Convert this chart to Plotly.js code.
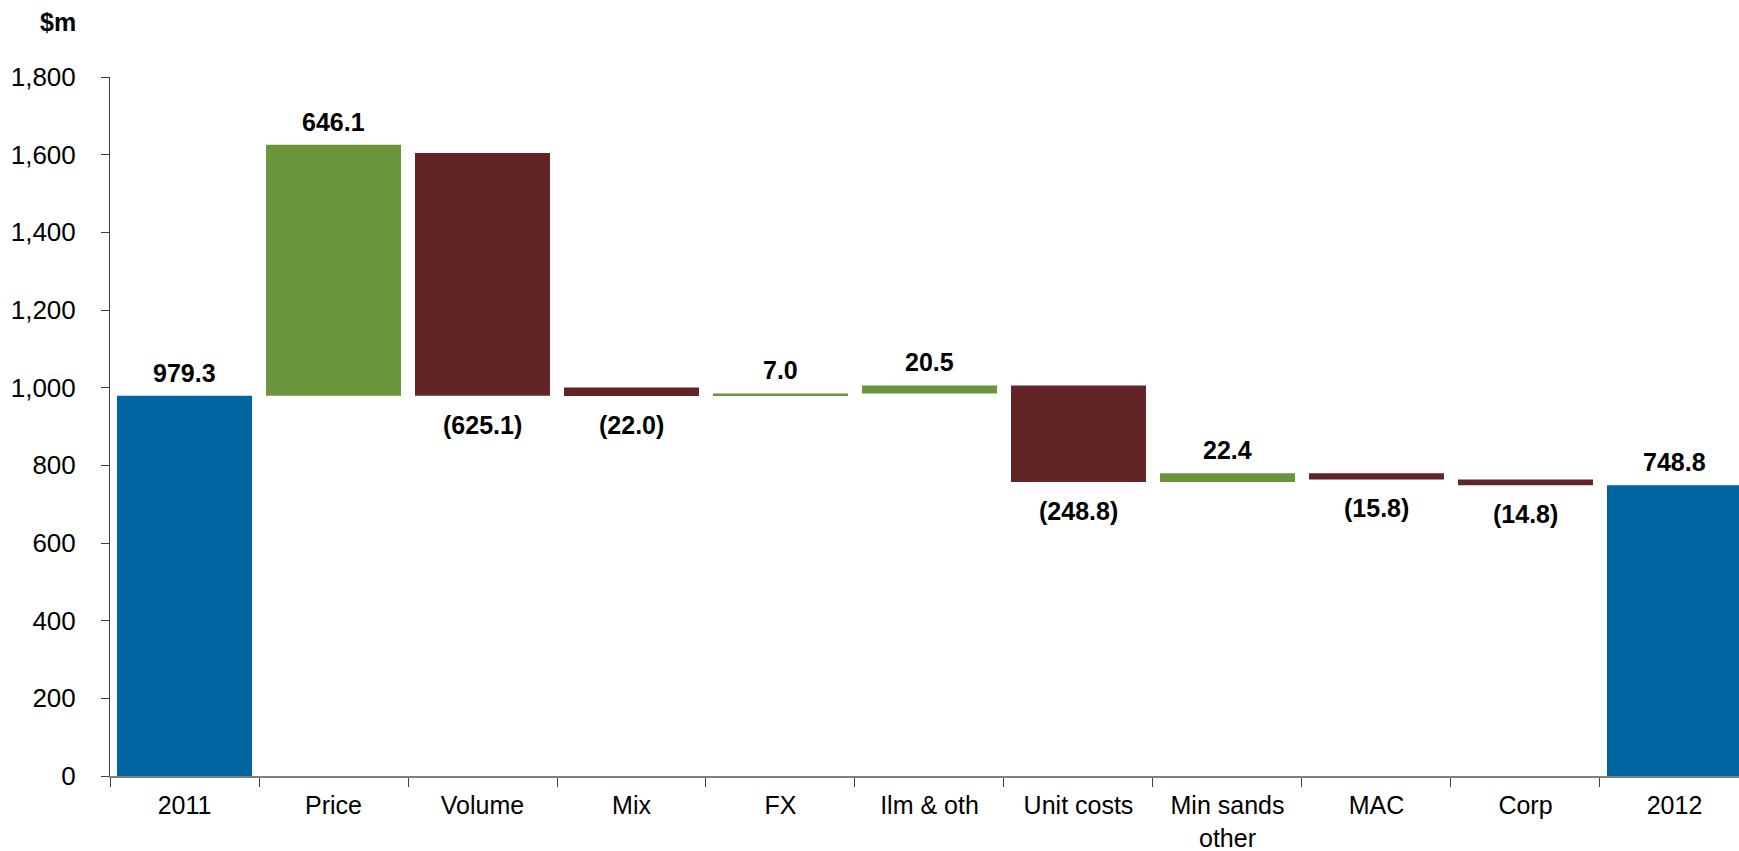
<!DOCTYPE html>
<html>
<head>
<meta charset="utf-8">
<script src="https://cdn.plot.ly/plotly-3.0.1.min.js"></script>
<style>
html,body{margin:0;padding:0;background:#fff;overflow:hidden;}
#chart{width:1739px;height:851px;}
</style>
</head>
<body>
<div id="chart"></div>
<script>
// ---- data ----
const categories = ['2011', 'Price', 'Volume', 'Mix', 'FX', 'Ilm & oth', 'Unit costs', 'Min sands<br>other', 'MAC', 'Corp', '2012'];
const changes    = [979.3, 646.1, -625.1, -22.0, 7.0, 20.5, -248.8, 22.4, -15.8, -14.8, 748.8];
const kinds      = ['total', 'up', 'down', 'down', 'up', 'up', 'down', 'up', 'down', 'down', 'total'];
// level each bar starts from, as drawn in the reference
const startLevels = [0, 979.3, 1604.4, 1000.3, 978.3, 985.3, 1005.8, 757.0, 779.4, 763.6, 0];
const yTicks = [0, 200, 400, 600, 800, 1000, 1200, 1400, 1600, 1800];
const unitLabel = '$m';

// ---- styles ----
const COLORS = {total: '#0066A1', up: '#6A953A', down: '#632426'};
const FONT = 'Arial, "Liberation Sans", sans-serif';

function fmt(v) {
  const s = Math.abs(v).toFixed(1);
  return v < 0 ? '(' + s + ')' : s;
}

const trace = {
  type: 'bar',
  x: categories,
  y: changes,
  base: startLevels,
  marker: {color: kinds.map(k => COLORS[k]), line: {width: 0}},
  hoverinfo: 'skip',
  cliponaxis: true
};

const annotations = categories.map((c, i) => {
  const end = startLevels[i] + changes[i];
  const down = changes[i] < 0;
  return {
    x: i, y: end, xref: 'x', yref: 'y',
    text: '<b>' + fmt(changes[i]) + '</b>',
    showarrow: false,
    xanchor: 'center', yanchor: 'middle',
    yshift: down ? -29 : 23,
    font: {family: FONT, size: 25, color: '#000'}
  };
});

annotations.push({
  xref: 'paper', yref: 'paper',
  x: -0.0196, y: 1.079, xanchor: 'right', yanchor: 'middle',
  text: '<b>' + unitLabel + '</b>', showarrow: false,
  font: {family: FONT, size: 25, color: '#000'}
});

const layout = {
  width: 1739, height: 851,
  margin: {l: 110, r: 0, t: 77, b: 75, pad: 0},
  paper_bgcolor: '#fff', plot_bgcolor: '#fff',
  showlegend: false,
  bargap: 0.094,
  font: {family: FONT, size: 26, color: '#000'},
  xaxis: {
    type: 'category',
    range: [-0.5, 10.433],
    showline: true, linecolor: '#808080', linewidth: 2,
    ticks: 'outside', tickson: 'boundaries', ticklen: 9, tickcolor: '#404040', tickwidth: 1,
    showgrid: false, zeroline: false,
    tickfont: {family: FONT, size: 25, color: '#000'},
    ticklabelstandoff: 6,
    fixedrange: true
  },
  yaxis: {
    range: [0, 1800],
    tickvals: yTicks,
    tickformat: ',',
    showline: true, linecolor: '#404040', linewidth: 1,
    ticks: 'outside', ticklen: 8, tickcolor: '#404040', tickwidth: 1,
    showgrid: false, zeroline: false,
    tickfont: {family: FONT, size: 26, color: '#000'},
    ticklabelstandoff: 20,
    fixedrange: true
  },
  annotations: annotations
};

Plotly.newPlot('chart', [trace], layout, {displayModeBar: false, staticPlot: true});
</script>
</body>
</html>
